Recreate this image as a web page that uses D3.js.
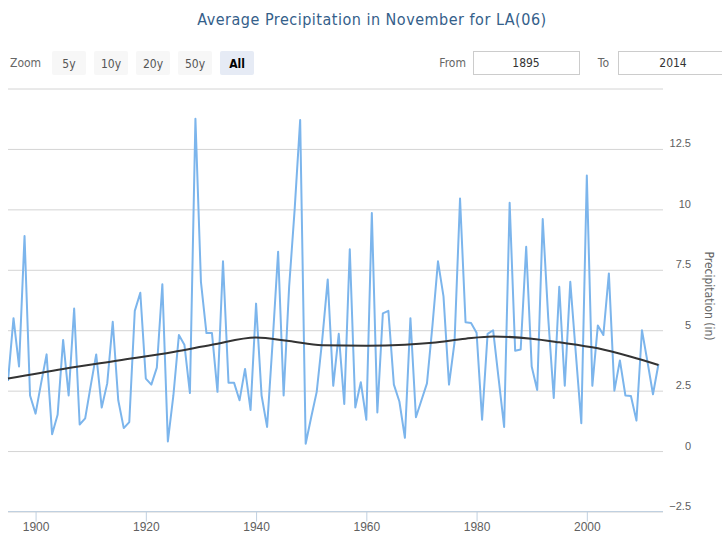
<!DOCTYPE html>
<html>
<head>
<meta charset="utf-8">
<script src="https://cdnjs.cloudflare.com/ajax/libs/d3/7.8.5/d3.min.js"></script>
<style>
  body { margin: 0; background: #fff; overflow: hidden; }
  svg { display: block; font-family: "DejaVu Sans Condensed", "Liberation Sans Narrow", "DejaVu Sans", sans-serif; }
</style>
</head>
<body>
<svg id="chart" width="722" height="533"></svg>
<script>
// data
const startYear = 1895;
const precip = [
  2.9, 5.5, 3.5, 8.9, 2.3, 1.55, 2.8, 4.0, 0.7, 1.5,
  4.6, 2.3, 5.9, 1.1, 1.35, 2.7, 4.0, 1.8, 2.8, 5.35,
  2.1, 0.95, 1.2, 5.8, 6.55, 3.0, 2.75, 3.45, 6.9, 0.4,
  2.3, 4.8, 4.4, 2.4, 13.75, 7.0, 4.88, 4.88, 2.45, 7.85,
  2.83, 2.83, 2.1, 3.4, 1.7, 6.1, 2.3, 1.0, 4.5, 8.25,
  2.3, 6.8, 10.0, 13.7, 0.3, 1.4, 2.45, 4.6, 7.1, 2.7,
  4.85, 1.95, 8.35, 1.8, 2.85, 1.3, 9.85, 1.6, 5.7, 5.8,
  2.75, 2.05, 0.55, 5.5, 1.4, 2.1, 2.8, 5.2, 7.85, 6.4,
  2.75, 4.5, 10.45, 5.33, 5.3, 4.9, 1.3, 4.85, 5.0, 3.0,
  1.0, 10.27, 4.15, 4.2, 8.45, 3.5, 2.53, 9.6, 5.5, 2.2,
  6.8, 2.7, 7.0, 4.05, 1.15, 11.4, 2.7, 5.2, 4.8, 7.35,
  2.5, 3.75, 2.3, 2.28, 1.26, 5.0, 3.7, 2.35, 3.6
];
const trendYears = [1895, 1905, 1915, 1925, 1932, 1940, 1946, 1952, 1960, 1967, 1972, 1978, 1983, 1990, 1995, 2002, 2008, 2013];
const trendValues = [3.0, 3.4, 3.75, 4.1, 4.4, 4.7, 4.55, 4.38, 4.36, 4.4, 4.48, 4.65, 4.74, 4.65, 4.5, 4.25, 3.9, 3.56];
const yTicks = [-2.5, 0, 2.5, 5, 7.5, 10, 12.5, 15];
const xTicks = [1900, 1920, 1940, 1960, 1980, 2000];
const zoomButtons = ['5y', '10y', '20y', '50y', 'All'];
const rangeFrom = '1895', rangeTo = '2014';
const titleText = 'Average Precipitation in November for LA(06)';
const yTitle = 'Precipitation (in)';

const svg = d3.select('#chart'),
  left = 8,
  right = 663,
  x = d3.scaleLinear().domain([1895, 2014]).range([left, 664]),
  y = d3.scaleLinear().domain([-2.5, 15]).range([511.5, 88.5]);

// title
svg.append('text')
  .attr('x', 372)
  .attr('y', 25)
  .attr('text-anchor', 'middle')
  .style('font-size', '16px')
  .style('letter-spacing', '0.5px')
  .style('fill', '#34608a')
  .text(titleText);

// range selector
const rs = svg.append('g');
rs.append('text')
  .attr('x', 10).attr('y', 67)
  .style('font-size', '12px').style('fill', '#666')
  .text('Zoom');

const btn = rs.selectAll('g.btn')
  .data(zoomButtons)
  .join('g')
  .attr('class', 'btn')
  .attr('transform', (d, i) => `translate(${52 + i * 42},51)`);
btn.append('rect')
  .attr('width', 34).attr('height', 24).attr('rx', 2)
  .style('fill', d => d === 'All' ? '#e6ebf5' : '#f7f7f7');
btn.append('text')
  .attr('x', 17).attr('y', 16.5)
  .attr('text-anchor', 'middle')
  .style('font-size', '12px')
  .style('font-weight', d => d === 'All' ? 'bold' : 'normal')
  .style('fill', d => d === 'All' ? '#000' : '#555')
  .text(d => d);

const inputs = [
  { label: 'From', lx: 466, bx: 473, bw: 106, value: rangeFrom },
  { label: 'To', lx: 609, bx: 618, bw: 110, value: rangeTo }
];
const inp = rs.selectAll('g.inp').data(inputs).join('g').attr('class', 'inp');
inp.append('text')
  .attr('x', d => d.lx).attr('y', 67)
  .attr('text-anchor', 'end')
  .style('font-size', '12px').style('fill', '#666')
  .text(d => d.label);
inp.append('rect')
  .attr('x', d => d.bx + 0.5).attr('y', 51.5)
  .attr('width', d => d.bw).attr('height', 23)
  .style('fill', '#fff').style('stroke', '#cccccc');
inp.append('text')
  .attr('x', d => d.bx + d.bw / 2).attr('y', 67)
  .attr('text-anchor', 'middle')
  .style('font-size', '12px').style('fill', '#333')
  .text(d => d.value);

// grid + y labels
const yAxis = svg.append('g')
  .attr('transform', `translate(${left},0)`)
  .call(d3.axisRight(y).tickValues(yTicks).tickSize(right - left)
    .tickFormat(d => d === 15 ? '' : d3.format('')(d)));
yAxis.select('.domain').remove();
yAxis.selectAll('.tick line').style('stroke', '#d4d4d4');
yAxis.selectAll('.tick text')
  .attr('x', 691 - left)
  .attr('dy', null)
  .attr('y', -2)
  .style('text-anchor', 'end')
  .style('font-family', 'inherit')
  .style('font-size', '11px')
  .style('fill', '#606060');

svg.append('text')
  .attr('transform', 'translate(705,296) rotate(90)')
  .attr('text-anchor', 'middle')
  .style('font-size', '12px')
  .style('fill', '#666')
  .text(yTitle);

// x axis
const xAxis = svg.append('g')
  .attr('transform', `translate(0,${y(-2.5)})`)
  .call(d3.axisBottom(x).tickValues(xTicks).tickFormat(d3.format('d')).tickSize(10).tickPadding(1));
xAxis.select('.domain')
  .attr('d', `M${left},0H${right}`)
  .style('stroke', '#c0d0e0');
xAxis.selectAll('.tick line').style('stroke', '#c0d0e0');
xAxis.selectAll('.tick text')
  .style('font-family', 'inherit')
  .style('font-size', '12px')
  .style('fill', '#606060');

// series
svg.append('clipPath').attr('id', 'plot')
  .append('rect').attr('x', left).attr('y', 88).attr('width', right - left).attr('height', 424);

const line = d3.line()
  .x((d, i) => x(startYear + i))
  .y(d => y(d))
  .curve(d3.curveLinear);

svg.append('path')
  .datum(precip)
  .attr('clip-path', 'url(#plot)')
  .attr('d', line)
  .style('fill', 'none')
  .style('stroke', '#7cb5ec')
  .style('stroke-width', 2)
  .style('stroke-linejoin', 'round');

const trend = d3.line()
  .x(d => x(d[0]))
  .y(d => y(d[1]))
  .curve(d3.curveMonotoneX);

svg.append('path')
  .datum(trendYears.map((yr, i) => [yr, trendValues[i]]))
  .attr('d', trend)
  .style('fill', 'none')
  .style('stroke', '#333')
  .style('stroke-width', 2);
</script>
</body>
</html>
